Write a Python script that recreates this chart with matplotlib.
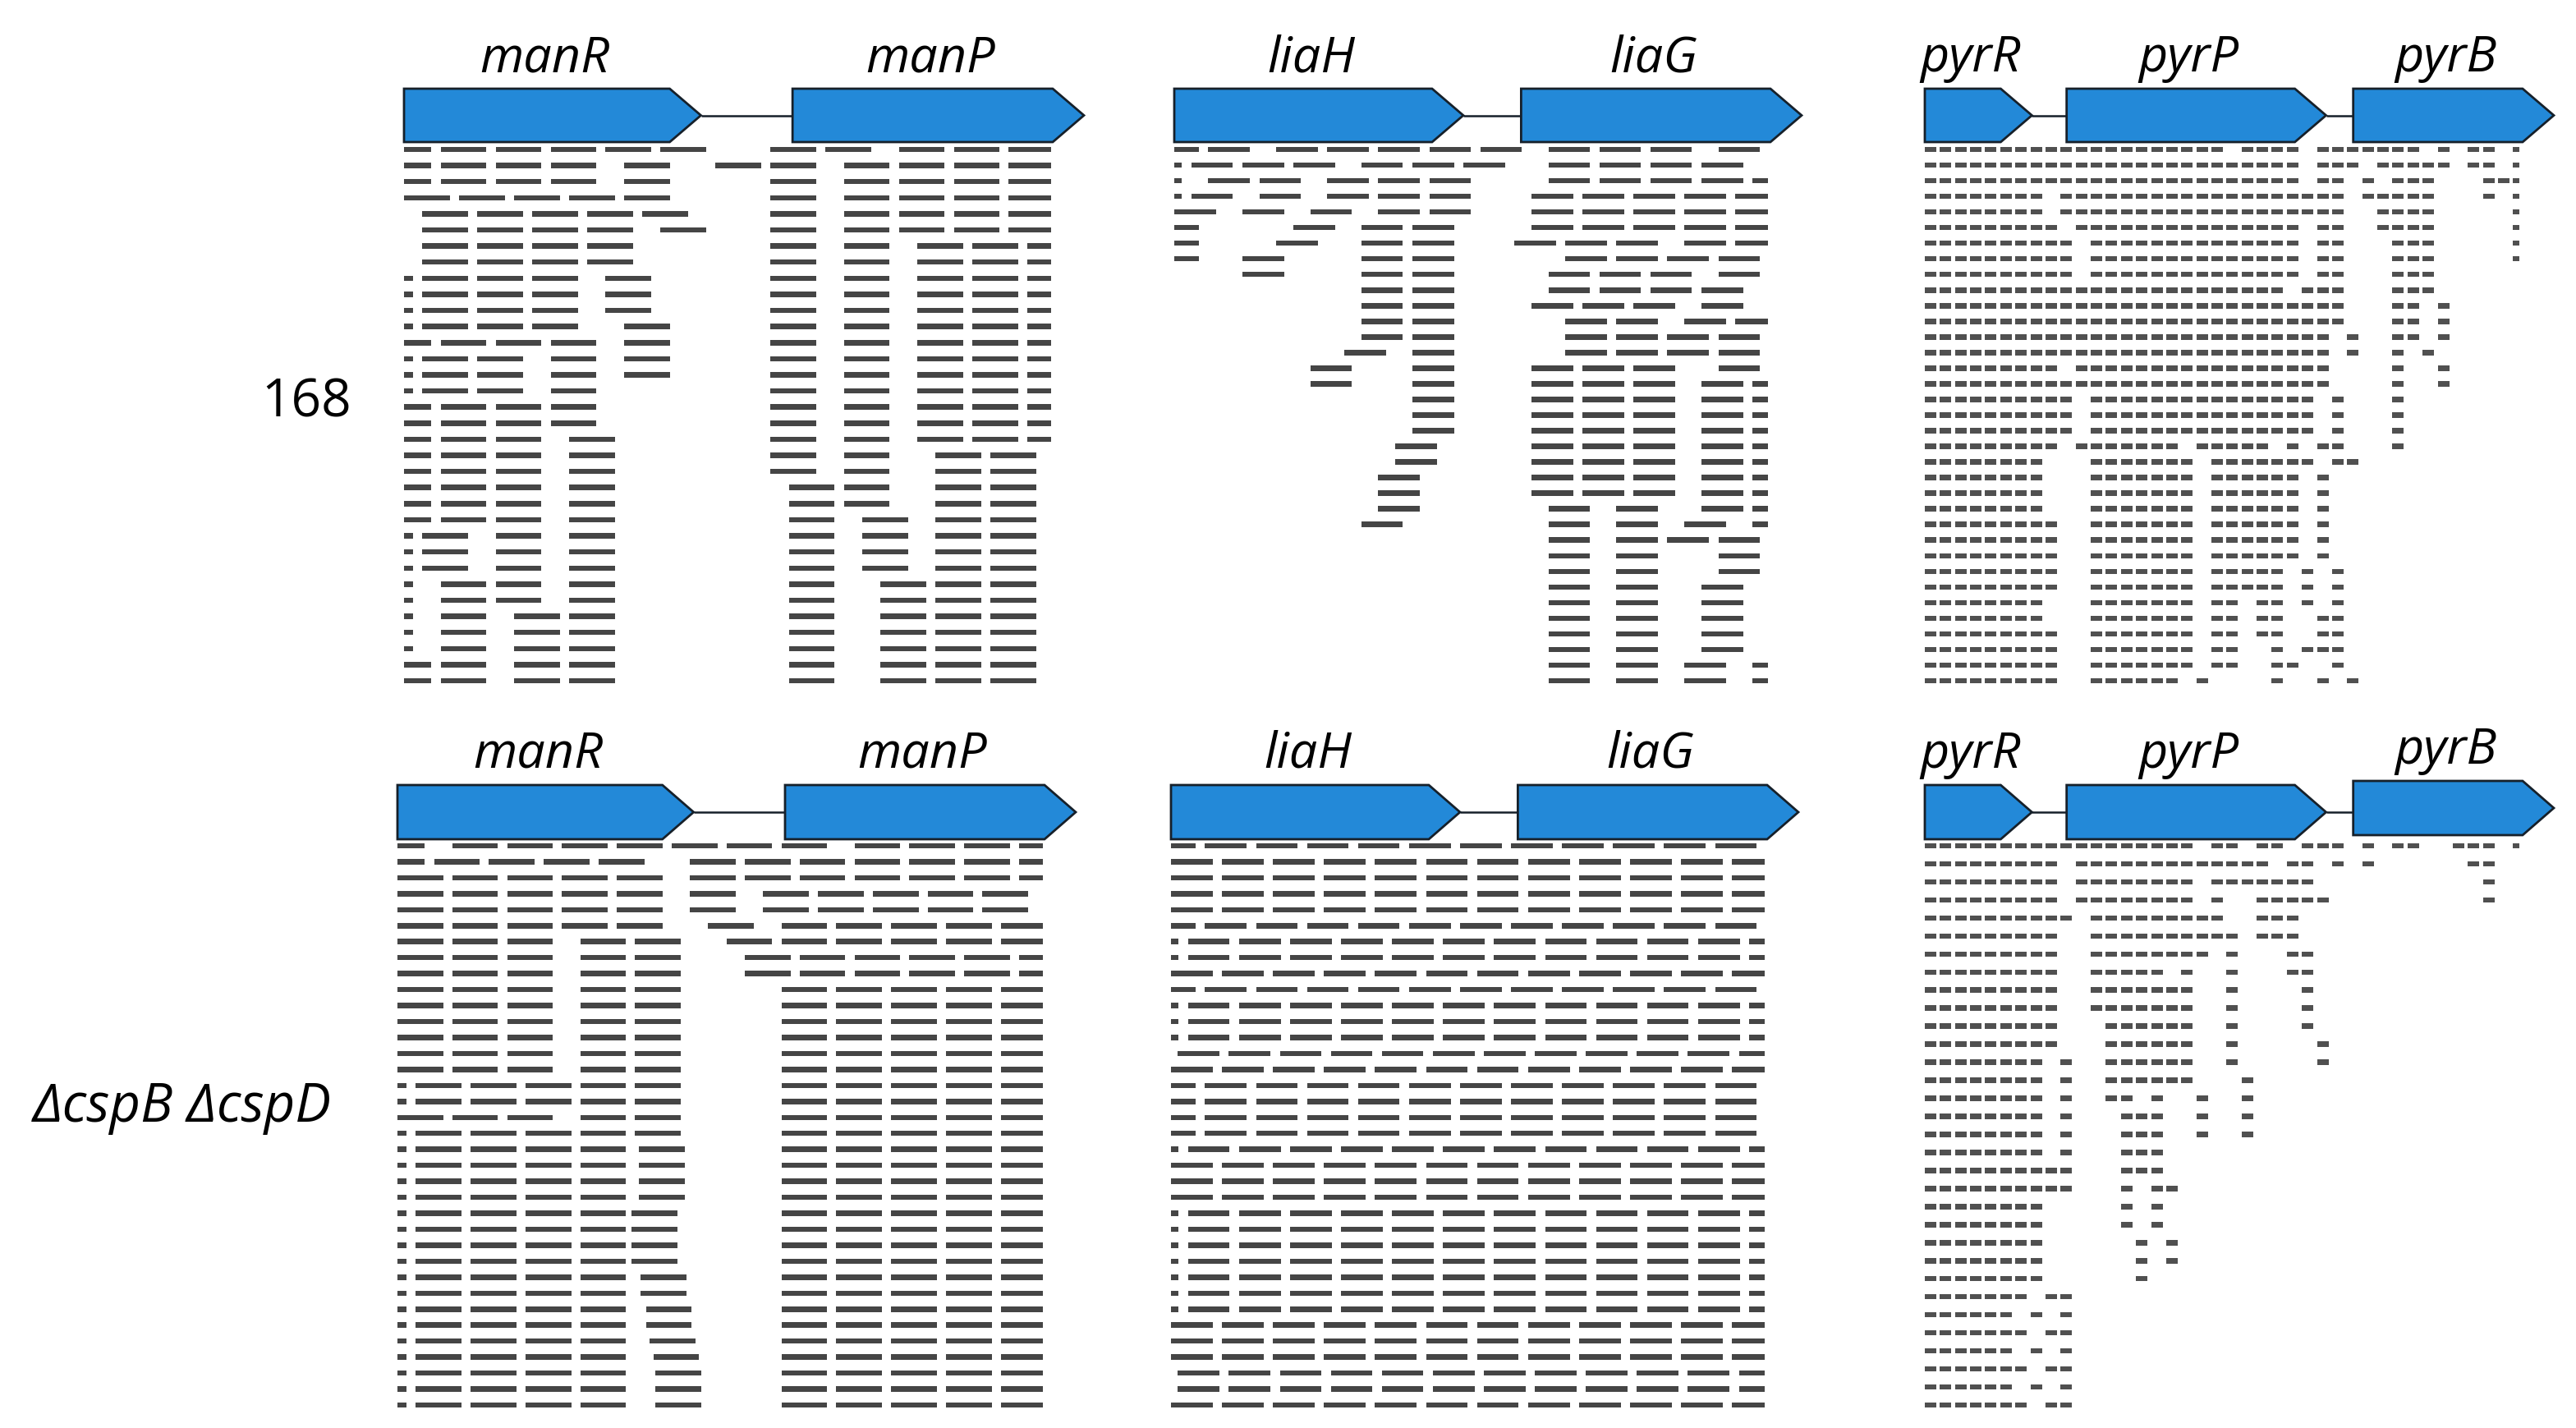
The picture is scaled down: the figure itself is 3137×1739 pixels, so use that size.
import matplotlib
matplotlib.use("Agg")
import matplotlib.pyplot as plt
from matplotlib.patches import Polygon

# ============================ DATA ============================
# gene models: (name, start, end) in browser units of each locus
MAN_GENES = [("manR", 3.0, 19.2), ("manP", 24.2, 40.1)]
LIA_GENES = [("liaH", 3.0, 20.0), ("liaG", 23.4, 39.9)]
PYR_GENES = [("pyrR", 0.0, 7.1), ("pyrP", 9.4, 26.6), ("pyrB", 28.4, 41.7)]

STRAIN_LABELS = ["168", "\u0394cspB \u0394cspD"]

# read lengths (browser units) and visible window of the read track
MAN_READ_LEN = 2.5
LIA_READ_LEN = 2.45
PYR_READ_LEN = 0.76
MAN_CLIP = (3.0, 38.3)
LIA_CLIP = (3.0, 37.9)
PYR_CLIP = (0.0, 39.4)

# read start positions, one list per stacked row
MAN_168_STARTS = [
    [2, 5, 8, 11, 14, 17, 23, 26, 30, 33, 36],
    [2, 5, 8, 11, 15, 20, 23, 27, 30, 33, 36],
    [2, 5, 8, 11, 15, 23, 27, 30, 33, 36],
    [3, 6, 9, 12, 15, 23, 27, 30, 33, 36],
    [4, 7, 10, 13, 16, 23, 27, 30, 33, 36],
    [4, 7, 10, 13, 17, 23, 27, 30, 33, 36],
    [4, 7, 10, 13, 23, 27, 31, 34, 37],
    [4, 7, 10, 13, 23, 27, 31, 34, 37],
    [1, 4, 7, 10, 14, 23, 27, 31, 34, 37],
    [1, 4, 7, 10, 14, 23, 27, 31, 34, 37],
    [1, 4, 7, 10, 14, 23, 27, 31, 34, 37],
    [1, 4, 7, 10, 15, 23, 27, 31, 34, 37],
    [2, 5, 8, 11, 15, 23, 27, 31, 34, 37],
    [1, 4, 7, 11, 15, 23, 27, 31, 34, 37],
    [1, 4, 7, 11, 15, 23, 27, 31, 34, 37],
    [1, 4, 7, 11, 23, 27, 31, 34, 37],
    [2, 5, 8, 11, 23, 27, 31, 34, 37],
    [2, 5, 8, 11, 23, 27, 31, 34, 37],
    [2, 5, 8, 12, 23, 27, 31, 34, 37],
    [2, 5, 8, 12, 23, 27, 32, 35],
    [2, 5, 8, 12, 23, 27, 32, 35],
    [2, 5, 8, 12, 24, 27, 32, 35],
    [2, 5, 8, 12, 24, 27, 32, 35],
    [2, 5, 8, 12, 24, 28, 32, 35],
    [1, 4, 8, 12, 24, 28, 32, 35],
    [1, 4, 8, 12, 24, 28, 32, 35],
    [1, 4, 8, 12, 24, 28, 32, 35],
    [1, 5, 8, 12, 24, 29, 32, 35],
    [1, 5, 8, 12, 24, 29, 32, 35],
    [1, 5, 9, 12, 24, 29, 32, 35],
    [1, 5, 9, 12, 24, 29, 32, 35],
    [1, 5, 9, 12, 24, 29, 32, 35],
    [2, 5, 9, 12, 24, 29, 32, 35],
    [2, 5, 9, 12, 24, 29, 32, 35],
]

MAN_CSP_STARTS = [
    [2, 6, 9, 12, 15, 18, 21, 24, 28, 31, 34, 37],
    [2, 5, 8, 11, 14, 19, 22, 25, 28, 31, 34, 37],
    [3, 6, 9, 12, 15, 19, 22, 25, 28, 31, 34, 37],
    [3, 6, 9, 12, 15, 19, 23, 26, 29, 32, 35],
    [3, 6, 9, 12, 15, 19, 23, 26, 29, 32, 35],
    [3, 6, 9, 12, 15, 20, 24, 27, 30, 33, 36],
    [3, 6, 9, 13, 16, 21, 24, 27, 30, 33, 36],
    [3, 6, 9, 13, 16, 22, 25, 28, 31, 34, 37],
    [3, 6, 9, 13, 16, 22, 25, 28, 31, 34, 37],
    [3, 6, 9, 13, 16, 24, 27, 30, 33, 36],
    [3, 6, 9, 13, 16, 24, 27, 30, 33, 36],
    [3, 6, 9, 13, 16, 24, 27, 30, 33, 36],
    [3, 6, 9, 13, 16, 24, 27, 30, 33, 36],
    [3, 6, 9, 13, 16, 24, 27, 30, 33, 36],
    [3, 6, 9, 13, 16, 24, 27, 30, 33, 36],
    [1, 4, 7, 10, 13, 16, 24, 27, 30, 33, 36],
    [1, 4, 7, 10, 13, 16, 24, 27, 30, 33, 36],
    [3, 6, 9, 13, 16, 24, 27, 30, 33, 36],
    [1, 4, 7, 10, 13, 16, 24, 27, 30, 33, 36],
    [1, 4, 7, 10, 13, 16.2, 24, 27, 30, 33, 36],
    [1, 4, 7, 10, 13, 16.2, 24, 27, 30, 33, 36],
    [1, 4, 7, 10, 13, 16.2, 24, 27, 30, 33, 36],
    [1, 4, 7, 10, 13, 16.2, 24, 27, 30, 33, 36],
    [1, 4, 7, 10, 13, 15.8, 24, 27, 30, 33, 36],
    [1, 4, 7, 10, 13, 15.8, 24, 27, 30, 33, 36],
    [1, 4, 7, 10, 13, 15.8, 24, 27, 30, 33, 36],
    [1, 4, 7, 10, 13, 15.8, 24, 27, 30, 33, 36],
    [1, 4, 7, 10, 13, 16.3, 24, 27, 30, 33, 36],
    [1, 4, 7, 10, 13, 16.3, 24, 27, 30, 33, 36],
    [1, 4, 7, 10, 13, 16.6, 24, 27, 30, 33, 36],
    [1, 4, 7, 10, 13, 16.6, 24, 27, 30, 33, 36],
    [1, 4, 7, 10, 13, 16.8, 24, 27, 30, 33, 36],
    [1, 4, 7, 10, 13, 17.0, 24, 27, 30, 33, 36],
    [1, 4, 7, 10, 13, 17.1, 24, 27, 30, 33, 36],
    [1, 4, 7, 10, 13, 17.1, 24, 27, 30, 33, 36],
    [1, 4, 7, 10, 13, 17.1, 24, 27, 30, 33, 36],
]

LIA_168_STARTS = [
    [2, 5, 9, 12, 15, 18, 21, 25, 28, 31, 35],
    [1, 4, 7, 10, 14, 17, 20, 25, 28, 31, 34],
    [1, 5, 8, 12, 15, 18, 25, 28, 31, 34, 37],
    [1, 4, 8, 12, 15, 18, 24, 27, 30, 33, 36],
    [3, 7, 11, 15, 18, 24, 27, 30, 33, 36],
    [2, 10, 14, 17, 24, 27, 30, 33, 36],
    [2, 9, 14, 17, 23, 26, 29, 33, 36],
    [2, 7, 14, 17, 26, 29, 32, 35],
    [7, 14, 17, 25, 28, 31, 35],
    [14, 17, 25, 28, 31, 34],
    [14, 17, 24, 27, 30, 34],
    [14, 17, 26, 29, 33, 36],
    [14, 17, 26, 29, 32, 35],
    [13, 17, 26, 29, 32, 35],
    [11, 17, 24, 27, 30, 35],
    [11, 17, 24, 27, 30, 34, 37],
    [17, 24, 27, 30, 34, 37],
    [17, 24, 27, 30, 34, 37],
    [17, 24, 27, 30, 34, 37],
    [16, 24, 27, 30, 34, 37],
    [16, 24, 27, 30, 34, 37],
    [15, 24, 27, 30, 34, 37],
    [15, 24, 27, 30, 34, 37],
    [15, 25, 29, 34, 37],
    [14, 25, 29, 33, 37],
    [25, 29, 32, 35],
    [25, 29, 35],
    [25, 29, 35],
    [25, 29, 34],
    [25, 29, 34],
    [25, 29, 34],
    [25, 29, 34],
    [25, 29, 34],
    [25, 29, 33, 37],
    [25, 29, 33, 37],
]

LIA_CSP_STARTS = [
    [2, 5, 8, 11, 14, 17, 20, 23, 26, 29, 32, 35],
    [3, 6, 9, 12, 15, 18, 21, 24, 27, 30, 33, 36],
    [3, 6, 9, 12, 15, 18, 21, 24, 27, 30, 33, 36],
    [3, 6, 9, 12, 15, 18, 21, 24, 27, 30, 33, 36],
    [3, 6, 9, 12, 15, 18, 21, 24, 27, 30, 33, 36],
    [2, 5, 8, 11, 14, 17, 20, 23, 26, 29, 32, 35],
    [1, 4, 7, 10, 13, 16, 19, 22, 25, 28, 31, 34, 37],
    [1, 4, 7, 10, 13, 16, 19, 22, 25, 28, 31, 34, 37],
    [3, 6, 9, 12, 15, 18, 21, 24, 27, 30, 33, 36],
    [2, 5, 8, 11, 14, 17, 20, 23, 26, 29, 32, 35],
    [1, 4, 7, 10, 13, 16, 19, 22, 25, 28, 31, 34, 37],
    [1, 4, 7, 10, 13, 16, 19, 22, 25, 28, 31, 34, 37],
    [1, 4, 7, 10, 13, 16, 19, 22, 25, 28, 31, 34, 37],
    [3.4, 6.4, 9.4, 12.4, 15.4, 18.4, 21.4, 24.4, 27.4, 30.4, 33.4, 36.4],
    [3, 6, 9, 12, 15, 18, 21, 24, 27, 30, 33, 36],
    [2, 5, 8, 11, 14, 17, 20, 23, 26, 29, 32, 35],
    [2, 5, 8, 11, 14, 17, 20, 23, 26, 29, 32, 35],
    [2, 5, 8, 11, 14, 17, 20, 23, 26, 29, 32, 35],
    [2, 5, 8, 11, 14, 17, 20, 23, 26, 29, 32, 35],
    [1, 4, 7, 10, 13, 16, 19, 22, 25, 28, 31, 34, 37],
    [3, 6, 9, 12, 15, 18, 21, 24, 27, 30, 33, 36],
    [3, 6, 9, 12, 15, 18, 21, 24, 27, 30, 33, 36],
    [3, 6, 9, 12, 15, 18, 21, 24, 27, 30, 33, 36],
    [1, 4, 7, 10, 13, 16, 19, 22, 25, 28, 31, 34, 37],
    [1, 4, 7, 10, 13, 16, 19, 22, 25, 28, 31, 34, 37],
    [1, 4, 7, 10, 13, 16, 19, 22, 25, 28, 31, 34, 37],
    [1, 4, 7, 10, 13, 16, 19, 22, 25, 28, 31, 34, 37],
    [1, 4, 7, 10, 13, 16, 19, 22, 25, 28, 31, 34, 37],
    [1, 4, 7, 10, 13, 16, 19, 22, 25, 28, 31, 34, 37],
    [1, 4, 7, 10, 13, 16, 19, 22, 25, 28, 31, 34, 37],
    [3, 6, 9, 12, 15, 18, 21, 24, 27, 30, 33, 36],
    [3, 6, 9, 12, 15, 18, 21, 24, 27, 30, 33, 36],
    [3, 6, 9, 12, 15, 18, 21, 24, 27, 30, 33, 36],
    [3.4, 6.4, 9.4, 12.4, 15.4, 18.4, 21.4, 24.4, 27.4, 30.4, 33.4, 36.4],
    [3.4, 6.4, 9.4, 12.4, 15.4, 18.4, 21.4, 24.4, 27.4, 30.4, 33.4, 36.4],
    [3, 6, 9, 12, 15, 18, 21, 24, 27, 30, 33, 36],
]

# pyr locus: one character per read slot, "=" = read present
PYR_168_ROWS = [
    "==================== ==== ======= = == =",
    "========================= === ===== == =",
    "========================= == = ===   ===",
    "======== =================== =====   = =",
    "======== ===================  ====     =",
    "========= =============== ==  ====     =",
    "========== ============== ==   ===     =",
    "========== ============== ==   ===     =",
    "========== ============== ==   ===",
    "======================== ===   ===",
    "============================   == =",
    "============================   == =",
    "=========================== =  == =",
    "=========================== =  = =",
    "========= =================    =  =",
    "===========================    =  =",
    "========== =============== =   =",
    "========== =============== =   =",
    "========== =============== =   =",
    "========= ======= ===== = ==   =",
    "========   ======= ======= ==",
    "========   ======= ====== =",
    "========   ======= ====== =",
    "========   ======= ====== =",
    "=========  ======= ====== =",
    "=========  ======= ====== =",
    "=========  ======= ====== =",
    "=========  ======= ===== = =",
    "=========  ======= ===== = =",
    "========   ======= == == = =",
    "========   ======= == ==  ==",
    "=========  ======= == ==  ==",
    "=========  ======= ==  = ===",
    "=========  ======= ==  ==  =",
    "=========  ====== =    =  = =",
]

PYR_CSP_ROWS = [
    "================== == == === = ==  === =",
    "========= ============= == = =      ==",
    "========= ======== =======           =",
    "========= ======== =  =====          =",
    "========== =========  ===",
    "=========  ========== ===",
    "=========  ======== =   ==",
    "=========  ===== =  =   ==",
    "=========  =======  =    =",
    "=========  =======  =    =",
    "=========   ======  =    =",
    "=========   ======  =     =",
    "======== =  ======  =     =",
    "======== =  ======   =",
    "======== =  == =  =  =",
    "======== =   ===  =  =",
    "======== =   ===  =  =",
    "======== =   ===",
    "==========   ===",
    "==========   = ==",
    "========     = =",
    "========     = =",
    "========      = =",
    "========      = =",
    "========      =",
    "======= ==",
    "====== = =",
    "======= ==",
    "====== = =",
    "======= ==",
    "====== = =",
    "======= ==",
]

# ============================ STYLE / LAYOUT ============================
W, H, DPI = 3137, 1740, 100
BLUE = "#2389d8"
EDGE = "#16202a"
READ_COLOR = "#454545"
PYR_READ_COLOR = "#505050"
FONT = ["Open Sans", "DejaVu Sans"]
TIP_PX = 38          # arrow head length in pixels
READ_H_PX = 6.5      # read thickness in pixels
LABEL_GAP_PX = 22    # gene-name baseline above the arrow

TOP = {"arrow": (109, 174), "rows": (183, 830)}
BOT = {"arrow": (957, 1023), "rows": (1031, 1712)}


def slot_rows(rows):
    return [[j for j, ch in enumerate(r) if ch == "="] for r in rows]


PANELS = [
    (MAN_GENES, MAN_168_STARTS, MAN_READ_LEN, MAN_CLIP, (492, 1320), TOP, {}, READ_COLOR),
    (LIA_GENES, LIA_168_STARTS, LIA_READ_LEN, LIA_CLIP, (1430, 2194), TOP, {}, READ_COLOR),
    (PYR_GENES, slot_rows(PYR_168_ROWS), PYR_READ_LEN, PYR_CLIP, (2344, 3110), TOP, {},
     PYR_READ_COLOR),
    (MAN_GENES, MAN_CSP_STARTS, MAN_READ_LEN, MAN_CLIP, (484, 1310), BOT, {}, READ_COLOR),
    (LIA_GENES, LIA_CSP_STARTS, LIA_READ_LEN, LIA_CLIP, (1426, 2190), BOT, {}, READ_COLOR),
    (PYR_GENES, slot_rows(PYR_CSP_ROWS), PYR_READ_LEN, PYR_CLIP, (2344, 3110), BOT,
     {"pyrB": 5}, PYR_READ_COLOR),
]

fig = plt.figure(figsize=(W / DPI, H / DPI), dpi=DPI)
fig.patch.set_facecolor("white")


def rect(x0, x1, y0, y1):
    return [x0 / W, 1 - y1 / H, (x1 - x0) / W, (y1 - y0) / H]


def draw_panel(genes, starts, read_len, clip, xpx, band, gene_dy, rcolor):
    x0, x1 = xpx
    xlim = (genes[0][1], genes[-1][2])
    ppu = (x1 - x0) / (xlim[1] - xlim[0])
    tip = TIP_PX / ppu

    # ---- gene track ----
    a0, a1 = band["arrow"]
    ah = a1 - a0
    axg = fig.add_axes(rect(x0, x1, a0, a1))
    axg.set_xlim(*xlim)
    axg.set_ylim(0, 1)
    axg.set_axis_off()
    for k, (name, s, e) in enumerate(genes):
        dy = gene_dy.get(name, 0) / ah
        b = e - tip
        poly = Polygon([(s, dy), (b, dy), (e, 0.5 + dy), (b, 1 + dy), (s, 1 + dy)],
                       closed=True, facecolor=BLUE, edgecolor=EDGE, linewidth=2.0,
                       joinstyle="miter", clip_on=False, zorder=3)
        axg.add_patch(poly)
        if k + 1 < len(genes):
            axg.plot([e, genes[k + 1][1]], [0.5 + dy, 0.5 + dy], color=EDGE,
                     linewidth=1.8, solid_capstyle="butt", clip_on=False, zorder=2)
        lx = s / 2 + b / 4 + e / 4
        axg.text(lx, 1 + dy + LABEL_GAP_PX / ah, name, ha="center", va="baseline",
                 fontsize=44, style="italic", family=FONT, clip_on=False)

    # ---- read pile-up ----
    r0, r1 = band["rows"]
    n = len(starts)
    pitch = (r1 - r0) / (n - 1)
    top, bottom = r0 - pitch / 2, r1 + pitch / 2
    axr = fig.add_axes(rect(x0, x1, top, bottom))
    axr.set_xlim(*xlim)
    axr.set_ylim(n - 0.5, -0.5)
    axr.set_axis_off()
    hh = READ_H_PX / pitch
    for k, row in enumerate(starts):
        segs = []
        for st in row:
            lo = max(st, clip[0])
            hi = min(st + read_len, clip[1])
            if hi > lo:
                segs.append((lo, hi - lo))
        if segs:
            axr.broken_barh(segs, (k - hh / 2, hh), facecolors=rcolor,
                            edgecolor="none")


for p in PANELS:
    draw_panel(*p)

fig.text(373 / W, 1 - 508 / H, STRAIN_LABELS[0], ha="center", va="baseline",
         fontsize=46, family=FONT)
fig.text(222 / W, 1 - 1366 / H, STRAIN_LABELS[1], ha="center", va="baseline",
         fontsize=47, style="italic", family=FONT)

fig.savefig("out.png", dpi=DPI, facecolor="white")
